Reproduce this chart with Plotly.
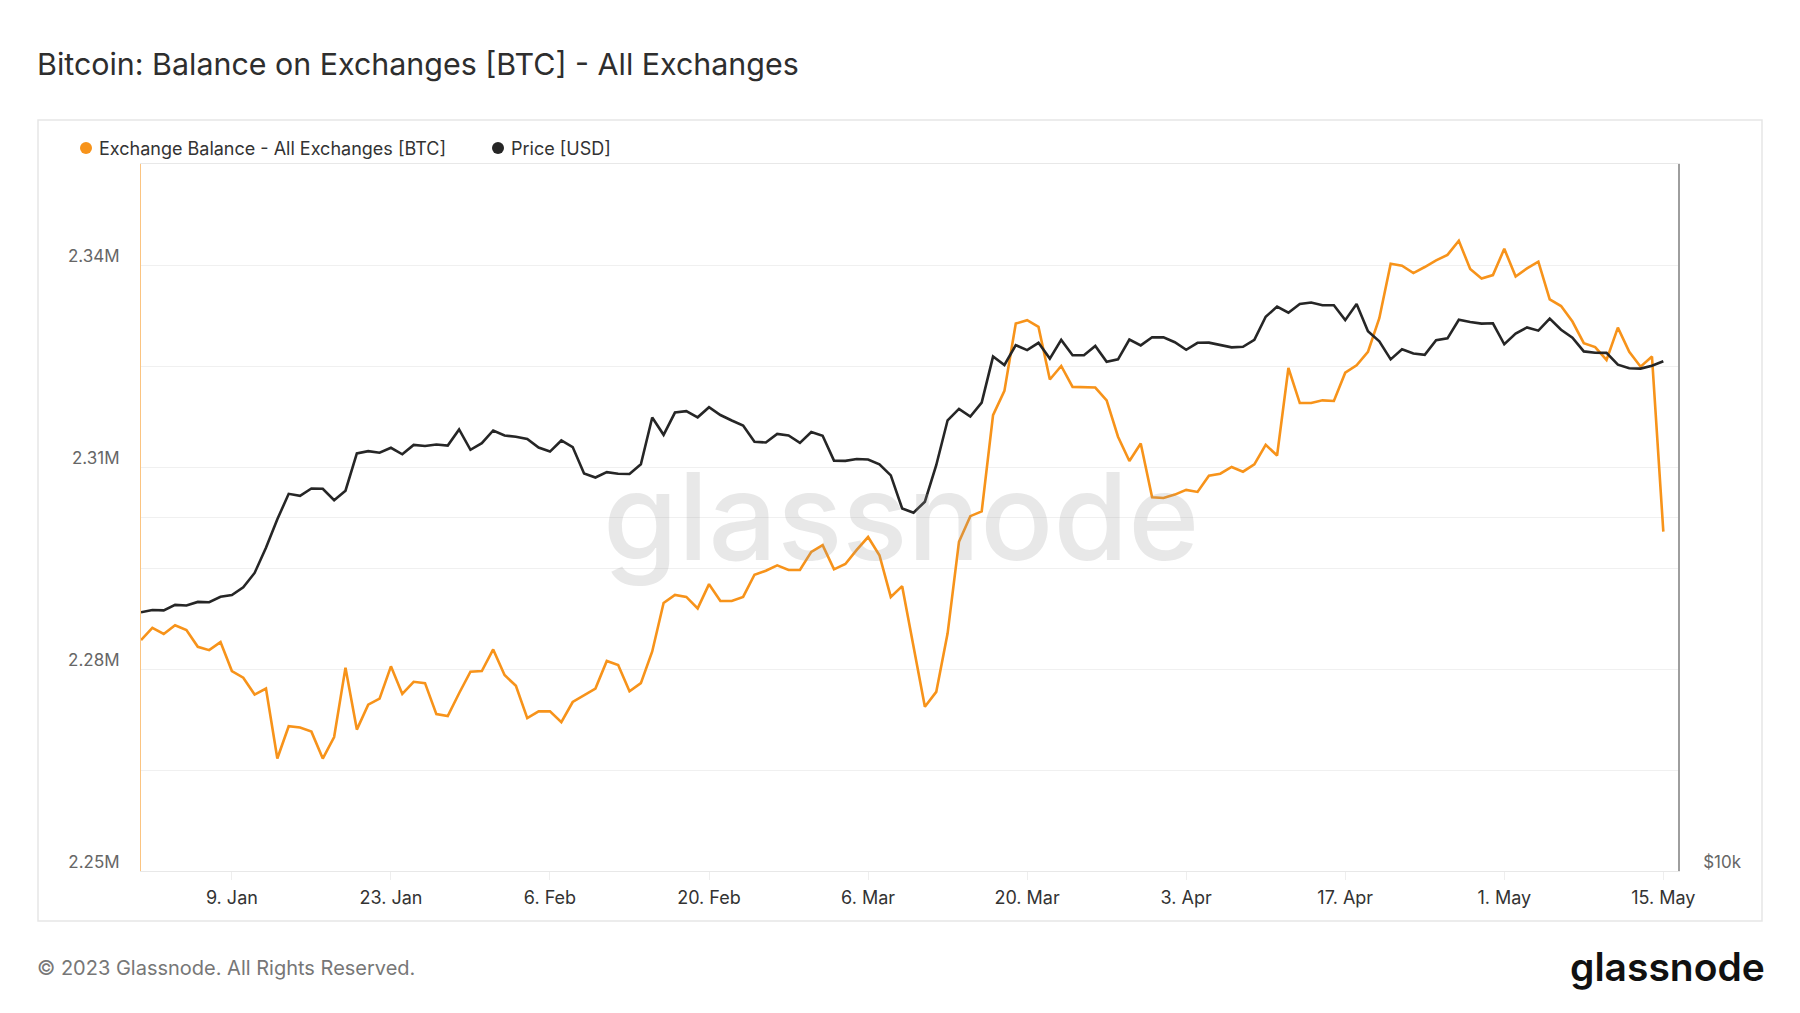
import math
import pandas as pd
import plotly.graph_objects as go

# ---------------- data ----------------
START_DATE = "2023-01-01"
N_DAYS = 135
dates = pd.date_range(START_DATE, periods=N_DAYS, freq="D")

exchange_balance_btc = [
    # Jan
    2284300, 2286100, 2285200, 2286500, 2285800, 2283300, 2282800, 2284000, 2279700, 2278700,
    2276200, 2277100, 2266700, 2271500, 2271300, 2270700, 2266700, 2269900, 2280200, 2271000,
    2274700, 2275600, 2280400, 2276300, 2278100, 2277900, 2273300, 2273000, 2276400, 2279600,
    2279700,
    # Feb
    2282900, 2279100, 2277500, 2272700, 2273700, 2273700, 2272100, 2275100, 2276100, 2277100,
    2281200, 2280600, 2276700, 2277900, 2282600, 2289800, 2291000, 2290700, 2289000, 2292600,
    2290100, 2290100, 2290700, 2294000, 2294600, 2295400, 2294700, 2294700,
    # Mar
    2297400, 2298400, 2294800, 2295600, 2297700, 2299600, 2296900, 2290700, 2292300, 2283300,
    2274400, 2276600, 2285300, 2298900, 2302700, 2303400, 2317700, 2321300, 2331300, 2331800,
    2330800, 2323000, 2325000, 2321900, 2321800, 2321800, 2319900, 2314500, 2310900, 2313500,
    2305500,
    # Apr
    2305400, 2305900, 2306600, 2306300, 2308700, 2309000, 2310000, 2309300, 2310400, 2313300,
    2311700, 2324700, 2319500, 2319500, 2319900, 2319800, 2324000, 2325100, 2327100, 2332100,
    2340200, 2339900, 2338800, 2339700, 2340700, 2341500, 2343600, 2339400, 2338000, 2338500,
    # May
    2342400, 2338300, 2339500, 2340500, 2334900, 2333900, 2331600, 2328400, 2327800, 2325900,
    2330700, 2327100, 2324900, 2326400, 2300400,
]

price_usd = [
    # Jan
    16610, 16680, 16670, 16850, 16830, 16950, 16940, 17120, 17180, 17440,
    17940, 18850, 19930, 20950, 20870, 21170, 21160, 20690, 21080, 22680,
    22780, 22710, 22930, 22640, 23060, 23010, 23080, 23030, 23770, 22840,
    23140,
    # Feb
    23720, 23490, 23430, 23330, 22940, 22760, 23260, 22960, 21800, 21630,
    21860, 21790, 21780, 22200, 24330, 23520, 24570, 24640, 24340, 24830,
    24450, 24190, 23950, 23200, 23170, 23560, 23490, 23150,
    # Mar
    23650, 23480, 22360, 22350, 22430, 22410, 22200, 21720, 20360, 20190,
    20630, 22160, 24200, 24750, 24380, 25050, 27420, 26970, 28040, 27770,
    28170, 27310, 28330, 27490, 27490, 28000, 27140, 27270, 28350, 28030,
    28480,
    # Apr
    28470, 28200, 27790, 28170, 28180, 28040, 27920, 27950, 28330, 29650,
    30240, 29880, 30400, 30490, 30320, 30320, 29450, 30400, 28820, 28250,
    27270, 27820, 27590, 27510, 28310, 28420, 29470, 29340, 29250, 29270,
    # May
    28090, 28680, 29030, 28850, 29540, 28900, 28450, 27700, 27630, 27620,
    26990, 26800, 26780, 26930, 27170,
]

left_grid_vals = [2250000, 2265000, 2280000, 2295000, 2310000, 2325000, 2340000, 2355000]
left_grid_text = ["2.25M", "", "2.28M", "", "2.31M", "", "2.34M", ""]
left_range = [2250000, 2355000]

right_tick_vals = [10000, 20000, 40000]
right_tick_text = ["$10k", "", ""]
right_range_usd = [10000, 40000]

x_range = ["2023-01-01", "2023-05-16 07:00"]
x_tick0 = "2023-01-09"
x_tick_step_days = 14

TITLE = "Bitcoin: Balance on Exchanges [BTC] - All Exchanges"
SERIES_NAMES = ["Exchange Balance - All Exchanges [BTC]", "Price [USD]"]
COPYRIGHT = "© 2023 Glassnode. All Rights Reserved."
BRAND = "glassnode"

ORANGE = "#f7931a"
DARK = "#262626"
FONT = "Inter"

# ---------------- layout geometry (pixels) ----------------
W, H = 1800, 1013
PL, PR, PT, PB = 141, 1678, 164, 871


def px(x):
    return (x - PL) / (PR - PL)


def py(y):
    return (PB - y) / (PB - PT)


fig = go.Figure()

fig.add_trace(go.Scatter(
    x=dates, y=exchange_balance_btc, name=SERIES_NAMES[0], mode="lines",
    line=dict(color=ORANGE, width=2.6), yaxis="y", showlegend=False,
))
fig.add_trace(go.Scatter(
    x=dates, y=price_usd, name=SERIES_NAMES[1], mode="lines",
    line=dict(color=DARK, width=2.6), yaxis="y2", showlegend=False,
))

fig.update_layout(
    width=W, height=H,
    margin=dict(l=PL, r=W - PR, t=PT, b=H - PB, pad=0),
    paper_bgcolor="white", plot_bgcolor="white",
    font=dict(family=FONT, color="#333333"),
    showlegend=False,
    xaxis=dict(
        type="date", range=x_range,
        tick0=x_tick0, dtick=x_tick_step_days * 86400000,
        tickformat="%-d. %b",
        ticks="outside", ticklen=8, tickcolor="#eeeeee",
        showgrid=False, zeroline=False,
        showline=True, linecolor="#e8e8e8", linewidth=1, mirror=True,
        tickfont=dict(size=18, color="#333333", family=FONT),
        ticklabelstandoff=2,
    ),
    yaxis=dict(
        range=left_range, tickmode="array",
        tickvals=left_grid_vals, ticktext=left_grid_text,
        showgrid=True, gridcolor="#f0f0f0", gridwidth=1,
        zeroline=False, ticks="",
        showline=True, linecolor="rgba(247,147,26,0.55)", linewidth=1,
        tickfont=dict(size=17, color="#666666", family=FONT),
        ticklabelstandoff=17, ticklabelshift=-9,
    ),
    yaxis2=dict(
        overlaying="y", side="right", type="log",
        range=[math.log10(right_range_usd[0]), math.log10(right_range_usd[1])],
        tickmode="array", tickvals=right_tick_vals, ticktext=right_tick_text,
        showgrid=True, gridcolor="#f0f0f0", gridwidth=1,
        zeroline=False, ticks="",
        showline=True, linecolor="#9e9e9e", linewidth=1.5,
        tickfont=dict(size=17, color="#666666", family=FONT),
        ticklabelstandoff=20, ticklabelshift=-9,
    ),
)

shapes = [
    # chart panel border
    dict(type="rect", xref="paper", yref="paper", layer="below",
         x0=px(38), x1=px(1762), y0=py(921), y1=py(120),
         line=dict(color="#e6e6e6", width=1.5), fillcolor="rgba(0,0,0,0)"),
    # legend dots
    dict(type="circle", xref="paper", yref="paper",
         x0=px(80), x1=px(92), y0=py(154), y1=py(142),
         fillcolor=ORANGE, line=dict(width=0)),
    dict(type="circle", xref="paper", yref="paper",
         x0=px(492), x1=px(504), y0=py(154), y1=py(142),
         fillcolor=DARK, line=dict(width=0)),
]

annotations = [
    dict(text=TITLE, x=px(35), y=py(64), xref="paper", yref="paper",
         xanchor="left", yanchor="middle", showarrow=False,
         font=dict(size=30.4, color="#2e2e2e", family=FONT)),
    dict(text=SERIES_NAMES[0], x=px(97), y=py(148), xref="paper", yref="paper",
         xanchor="left", yanchor="middle", showarrow=False,
         font=dict(size=18, color="#333333", family=FONT)),
    dict(text=SERIES_NAMES[1], x=px(509), y=py(148), xref="paper", yref="paper",
         xanchor="left", yanchor="middle", showarrow=False,
         font=dict(size=18, color="#333333", family=FONT)),
    dict(text=COPYRIGHT, x=px(35), y=py(968), xref="paper", yref="paper",
         xanchor="left", yanchor="middle", showarrow=False,
         font=dict(size=20, color="#777777", family=FONT)),
    dict(text=BRAND, x=px(1767), y=py(966), xref="paper", yref="paper",
         xanchor="right", yanchor="middle", showarrow=False,
         font=dict(size=39, color="#111111", family=FONT, weight=600)),
    # watermark
    dict(text=BRAND, x=px(901), y=py(516), xref="paper", yref="paper",
         xanchor="center", yanchor="middle", showarrow=False,
         font=dict(size=121, color="rgba(150,150,150,0.22)", family=FONT, weight=500)),
]

fig.update_layout(shapes=shapes, annotations=annotations)

fig.write_html("out.html", config={"displayModeBar": False},
               post_script="document.body.style.margin='0px';")
